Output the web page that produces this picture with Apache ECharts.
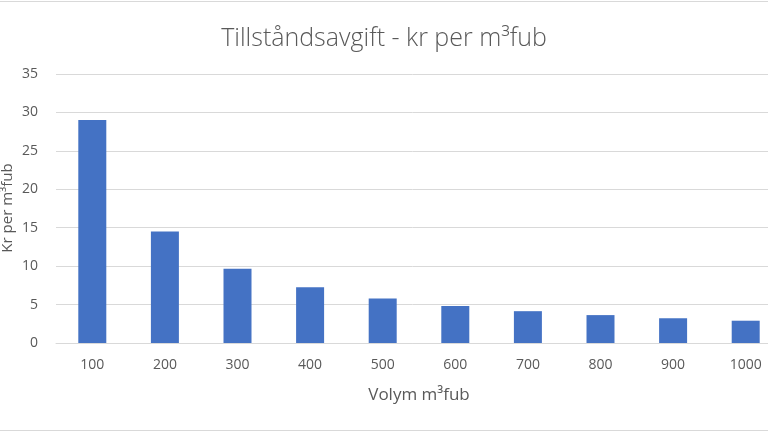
<!DOCTYPE html>
<html><head><meta charset="utf-8">
<script src="https://cdn.jsdelivr.net/npm/echarts@6/dist/echarts.min.js"></script>
<style>html,body{margin:0;padding:0;background:#fff}#c{width:768px;height:432px}</style>
</head><body><div id="c"></div>
<script>
const categories = ['100','200','300','400','500','600','700','800','900','1000'];
const values = [29, 14.5, 9.67, 7.25, 5.8, 4.83, 4.14, 3.63, 3.22, 2.9];
const yTicks = {min: 0, max: 35, interval: 5};
const titleText = 'Tillståndsavgift - kr per m³fub';
const xName = 'Volym m³fub';
const yName = 'Kr per m³fub';

const FONT = '"Open Sans", "Noto Sans", sans-serif';
const chart = echarts.init(document.getElementById('c'), null, {renderer: 'canvas'});
chart.setOption({
  animation: false,
  backgroundColor: '#fff',
  title: {
    text: titleText, left: 'center', top: 21,
    textStyle: {fontFamily: FONT, fontSize: 25, fontWeight: 300, color: '#595959'}
  },
  grid: {left: 56, top: 74, width: 726, height: 269, containLabel: false, outerBoundsMode: 'none'},
  xAxis: {
    type: 'category', data: categories,
    name: xName, nameLocation: 'middle', nameGap: 44,
    nameTextStyle: {fontFamily: FONT, fontSize: 17, color: '#595959'},
    axisLine: {show: true, lineStyle: {color: '#d9d9d9'}},
    axisTick: {show: false},
    axisLabel: {fontFamily: FONT, fontSize: 14, color: '#595959', margin: 15}
  },
  yAxis: {
    type: 'value', min: yTicks.min, max: yTicks.max, interval: yTicks.interval,
    axisLine: {show: false}, axisTick: {show: false},
    axisLabel: {fontFamily: FONT, fontSize: 14, color: '#595959', margin: 18},
    splitLine: {lineStyle: {color: '#d9d9d9', width: 1}}
  },
  series: [{
    type: 'bar', data: values, barWidth: 28,
    itemStyle: {color: '#4472C4'}
  }],
  graphic: [
    {type: 'line', shape: {x1: 0, y1: 1.5, x2: 768, y2: 1.5}, style: {stroke: '#d9d9d9', lineWidth: 1}},
    {type: 'line', shape: {x1: 0, y1: 430.5, x2: 768, y2: 430.5}, style: {stroke: '#d9d9d9', lineWidth: 1}},
    {type: 'text', x: 8, y: 208, rotation: Math.PI / 2,
     style: {text: yName, fontFamily: FONT, fontSize: 15, fill: '#595959', align: 'center', verticalAlign: 'middle'}}
  ]
});
</script></body></html>
